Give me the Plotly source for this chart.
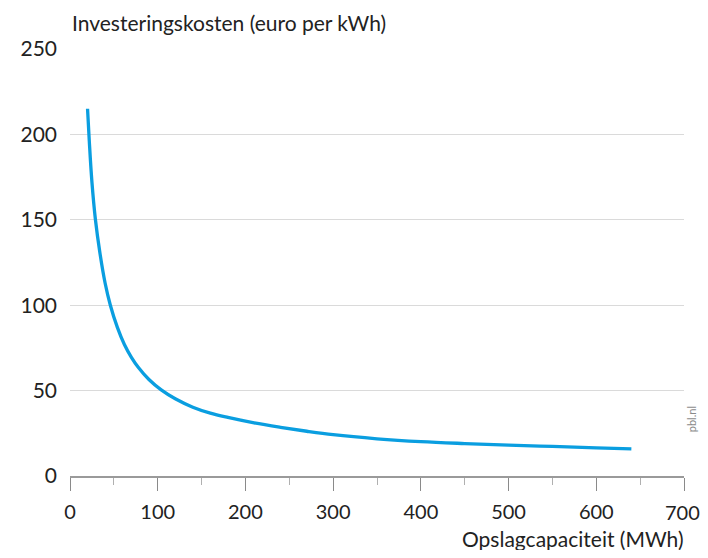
import plotly.graph_objects as go

# Opslagcapaciteit (MWh)
capaciteit = [20, 22, 25, 29, 34, 40, 46, 54, 62, 70, 78, 90, 104, 120, 140, 160,
              180, 210, 240, 270, 300, 350, 400, 450, 500, 550, 600, 640]
# Investeringskosten (euro per kWh)
kosten = [215, 196, 172, 150, 131, 113, 100, 87, 77, 69.5, 63.5, 56.5, 50.4, 45.2,
          40.3, 36.8, 34.3, 31.1, 28.5, 26.2, 24.2, 21.8, 20.1, 19.0, 18.1, 17.3,
          16.5, 15.9]

x_ticks = [0, 100, 200, 300, 400, 500, 600, 700]
y_ticks = [0, 50, 100, 150, 200, 250]

FONT = "Lato"
TXT = "#222222"
FS = 21
XFS = 20

# last x tick label is drawn as an annotation so it is not hidden at the page edge
x_ticktext = [str(v) for v in x_ticks[:-1]] + [""]

fig = go.Figure()
fig.add_trace(go.Scatter(
    x=capaciteit, y=kosten, mode="lines",
    line=dict(color="#0a9ee0", width=3.3, shape="spline", smoothing=1.0),
    hoverinfo="skip", showlegend=False,
))

fig.update_layout(
    width=692, height=542,
    margin=dict(l=57, r=16, t=41, b=74),
    paper_bgcolor="white", plot_bgcolor="white",
    font=dict(family=FONT, size=FS, color=TXT),
    xaxis=dict(
        range=[0, 700], tickvals=x_ticks, ticktext=x_ticktext,
        showgrid=False, zeroline=False,
        showline=True, linecolor="#9a9a9a", linewidth=1.5,
        ticks="outside", ticklen=13, tickwidth=1.3, tickcolor="#8a8a8a",
        minor=dict(dtick=50, ticks="outside", ticklen=7, tickwidth=1, tickcolor="#b0b0b0"),
        ticklabelstandoff=4,
        tickfont=dict(family=FONT, size=XFS, color=TXT),
        fixedrange=True,
    ),
    yaxis=dict(
        range=[0, 250], tickvals=y_ticks, ticktext=[str(v) for v in y_ticks],
        showgrid=True, gridcolor="#dadada", gridwidth=1.3,
        zeroline=False, showline=False, ticks="",
        ticklabelstandoff=12,
        tickfont=dict(family=FONT, size=FS, color=TXT),
        fixedrange=True,
    ),
    annotations=[
        dict(text=str(x_ticks[-1]), xref="x", yref="paper",
             x=x_ticks[-1], xshift=-2, y=0, yshift=-36,
             xanchor="center", yanchor="middle", showarrow=False,
             font=dict(family=FONT, size=XFS, color=TXT)),
        dict(text="Investeringskosten (euro per kWh)", xref="paper", yref="paper",
             x=0.0, xshift=0, y=1.0, yshift=27, xanchor="left", yanchor="middle",
             showarrow=False, font=dict(family=FONT, size=FS, color=TXT)),
        dict(text="Opslagcapaciteit (MWh)", xref="paper", yref="paper",
             x=1.0, xshift=2, y=0, yshift=-62, xanchor="right", yanchor="middle",
             showarrow=False, font=dict(family=FONT, size=FS, color=TXT)),
        dict(text="pbl.nl", xref="paper", yref="paper",
             x=1.0, xshift=7, y=0.133, xanchor="center", yanchor="middle",
             textangle=-90, showarrow=False,
             font=dict(family=FONT, size=11, color="#8a8a8a")),
    ],
)

fig.write_html("out.html", config={"displayModeBar": False})
